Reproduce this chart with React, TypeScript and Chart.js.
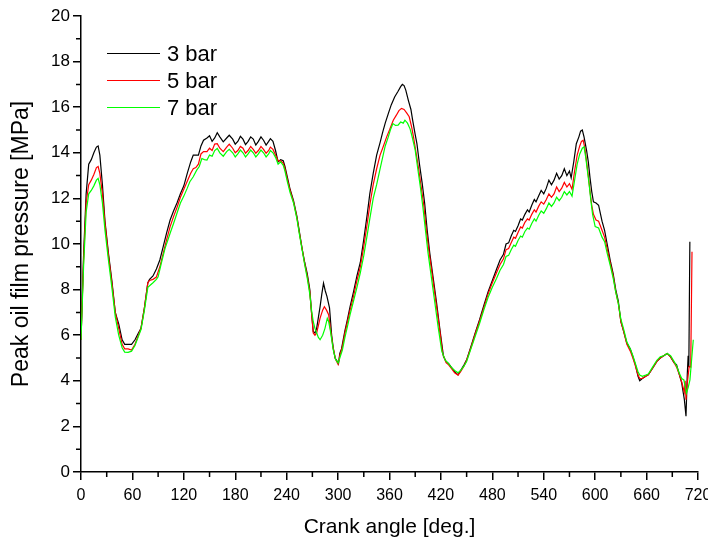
import React, { useEffect, useRef } from "react";
import { Chart, registerables } from "chart.js";

Chart.register(...registerables);

const seriesLabels = ["3 bar", "5 bar", "7 bar"];
const seriesColors = ["#000000", "#ff0000", "#00ff00"];

const xMajorTicks = [0, 60, 120, 180, 240, 300, 360, 420, 480, 540, 600, 660, 720];
const xMinorTicks = [30, 90, 150, 210, 270, 330, 390, 450, 510, 570, 630, 690];
const yMajorTicks = [0, 2, 4, 6, 8, 10, 12, 14, 16, 18, 20];
const yMinorTicks = [1, 3, 5, 7, 9, 11, 13, 15, 17, 19];

const angles3 = [0, 3, 6, 9, 12, 15, 18, 20, 22, 25, 28, 32, 36, 40, 44, 48, 51, 55, 59, 63, 67, 70, 74, 78, 80, 84, 88, 92, 96, 100, 104, 108, 112, 116, 120, 124, 128, 131, 134, 137, 140, 143, 147, 150, 153, 156, 159, 162, 166, 170, 173, 177, 180, 183, 186, 189, 192, 195, 198, 201, 204, 207, 210, 213, 216, 219, 221, 224, 227, 230, 233, 236, 238, 241, 244, 248, 252, 255, 258, 261, 264, 267, 269, 271, 273, 275, 279, 281, 283, 285, 287, 290, 292.5, 294.5, 296.5, 299, 300.5, 302, 304, 308, 311, 314, 318, 322, 326, 330, 334, 337, 341, 345, 349, 352, 355, 358.6, 362, 366, 370, 373, 375, 377, 379, 382, 385, 387, 390, 392, 395, 398, 401, 404, 407, 411, 415, 419, 423, 426, 429, 432, 436, 440, 443, 447, 450, 455, 460, 465, 470, 475, 480, 485, 489, 493, 496, 499, 502, 505, 507, 510, 513, 515, 518, 521, 523, 526, 529, 531, 534, 537, 540, 543, 546, 549, 552, 555, 558, 561, 564, 567, 570, 572, 575, 578, 581, 583, 585, 587, 590, 592, 594, 596, 598, 601, 604, 608, 611, 614, 618, 621, 624, 627, 630, 633, 637, 641, 644, 647, 650, 652, 655, 659, 662, 667, 672, 676, 680, 684, 688, 692, 695, 698, 701, 704, 706, 707.5, 708.5, 709.3, 710.5];
const pressure3 = [5.8, 9.5, 12.2, 13.5, 13.7, 14.0, 14.25, 14.3, 13.9, 12.6, 11.0, 9.6, 8.4, 7.0, 6.5, 5.8, 5.6, 5.6, 5.6, 5.8, 6.1, 6.3, 7.2, 8.3, 8.45, 8.6, 8.9, 9.3, 9.9, 10.5, 11.05, 11.45, 11.8, 12.2, 12.55, 13.1, 13.6, 13.9, 13.9, 13.9, 14.3, 14.55, 14.65, 14.75, 14.5, 14.65, 14.88, 14.7, 14.48, 14.65, 14.77, 14.6, 14.38, 14.5, 14.72, 14.6, 14.36, 14.5, 14.7, 14.6, 14.34, 14.5, 14.7, 14.55, 14.34, 14.5, 14.62, 14.5, 14.1, 13.6, 13.7, 13.65, 13.4, 12.9, 12.4, 11.9, 11.2, 10.5, 9.8, 9.2, 8.7, 8.0, 7.0, 6.16, 6.1, 6.3, 7.25, 7.8, 8.28, 7.95, 7.7, 7.2, 6.0, 5.4, 5.0, 4.85, 4.75, 5.2, 5.4, 6.2, 6.7, 7.25, 7.9, 8.6, 9.2, 10.2, 11.3, 12.2, 13.1, 13.9, 14.45, 14.9, 15.3, 15.72, 16.1, 16.45, 16.7, 16.9, 17.0, 16.95, 16.75, 16.3, 15.9, 15.43, 14.8, 14.4, 13.5, 12.7, 11.8, 10.6, 9.6, 8.5, 7.4, 6.2, 5.06, 4.85, 4.75, 4.6, 4.4, 4.26, 4.45, 4.7, 4.92, 5.5, 6.1, 6.67, 7.3, 7.9, 8.4, 8.9, 9.3, 9.55, 10.0, 10.05, 10.35, 10.6, 10.55, 10.8, 11.1, 11.05, 11.3, 11.5, 11.4, 11.7, 11.95, 11.85, 12.1, 12.35, 12.2, 12.45, 12.8, 12.6, 12.8, 13.1, 12.85, 13.0, 13.3, 13.0, 13.2, 12.9, 13.6, 14.4, 14.7, 14.95, 15.0, 14.7, 14.1, 13.6, 12.9, 12.3, 11.85, 11.8, 11.7, 11.0, 10.6, 10.0, 9.2, 8.7, 8.0, 7.5, 6.6, 6.2, 5.65, 5.4, 5.06, 4.7, 4.2, 4.0, 4.1, 4.2, 4.26, 4.55, 4.85, 5.0, 5.1, 5.2, 5.05, 4.8, 4.7, 4.3, 3.9, 3.2, 2.45, 4.3, 5.1, 4.6, 10.1];

const angles5 = [0, 3, 6, 9, 12, 15, 18, 20, 22, 25, 28, 32, 36, 40, 44, 48, 51, 55, 59, 63, 67, 70, 74, 78, 80, 84, 88, 92, 96, 100, 104, 108, 112, 116, 120, 124, 128, 131, 134, 137, 140, 143, 147, 150, 153, 156, 159, 162, 166, 170, 173, 177, 180, 183, 186, 189, 192, 195, 198, 201, 204, 207, 210, 213, 216, 219, 221, 224, 227, 230, 233, 236, 238, 241, 244, 248, 252, 255, 258, 261, 264, 267, 269, 271, 273, 275, 279, 282, 284, 286.5, 289, 291, 294, 297, 300, 302, 305, 308, 311, 314, 318, 322, 326, 330, 334, 337, 341, 345, 349, 352, 356.7, 360, 364.4, 368, 371, 374, 377, 380, 383, 386, 388, 391, 394, 397, 400, 403, 406, 410, 414, 418, 422, 426, 429, 432, 436, 440, 443, 447, 450, 455, 460, 465, 470, 475, 480, 485, 489, 493, 496, 499, 502, 505, 507, 510, 513, 515, 518, 521, 523, 526, 529, 531, 534, 537, 540, 543, 546, 549, 552, 555, 558, 561, 564, 567, 570, 573, 576, 579, 582, 584, 586, 588, 590, 592, 594, 596, 598, 601, 604, 608, 611, 614, 618, 621, 624, 627, 630, 633, 637, 641, 644, 647, 650, 652, 655, 659, 662, 667, 672, 676, 680, 684, 688, 692, 695, 698, 701, 704, 705, 706, 707.5, 709.7, 711.5, 713];
const pressure5 = [5.8, 9.3, 11.8, 12.6, 12.8, 13.05, 13.35, 13.4, 13.1, 12.2, 10.9, 9.5, 8.3, 7.0, 6.3, 5.6, 5.4, 5.4, 5.35, 5.6, 6.0, 6.3, 7.2, 8.3, 8.4, 8.45, 8.55, 9.0, 9.6, 10.2, 10.76, 11.2, 11.6, 12.05, 12.4, 12.75, 13.1, 13.3, 13.35, 13.5, 13.95, 14.05, 14.05, 14.2, 14.1, 14.38, 14.4, 14.2, 14.05, 14.25, 14.38, 14.2, 14.0, 14.1, 14.28, 14.2, 13.98, 14.1, 14.28, 14.15, 13.98, 14.1, 14.28, 14.15, 13.98, 14.1, 14.25, 14.15, 13.9, 13.65, 13.65, 13.55, 13.3, 12.8, 12.35, 11.85, 11.15, 10.45, 9.8, 9.15, 8.6, 7.9, 7.0, 6.1, 6.0, 6.1, 6.75, 7.1, 7.25, 7.1, 6.9, 6.3, 5.5, 4.95, 4.72, 5.1, 5.5, 6.1, 6.6, 7.1, 7.7, 8.4, 9.0, 9.9, 10.9, 11.7, 12.6, 13.3, 13.9, 14.2, 14.7, 15.0, 15.43, 15.65, 15.85, 15.95, 15.9, 15.75, 15.58, 15.1, 14.7, 14.0, 13.3, 12.5, 11.7, 10.6, 9.7, 8.6, 7.5, 6.4, 5.2, 4.8, 4.7, 4.55, 4.35, 4.25, 4.4, 4.65, 4.9, 5.45, 6.05, 6.6, 7.2, 7.8, 8.3, 8.75, 9.1, 9.35, 9.75, 9.8, 10.05, 10.3, 10.25, 10.5, 10.75, 10.7, 10.95, 11.1, 11.05, 11.3, 11.5, 11.4, 11.65, 11.85, 11.75, 11.95, 12.2, 12.05, 12.2, 12.5, 12.3, 12.45, 12.7, 12.5, 12.65, 12.4, 13.2, 13.9, 14.3, 14.5, 14.55, 14.2, 13.6, 13.0, 12.3, 11.7, 11.3, 11.05, 11.0, 10.6, 10.3, 9.8, 9.1, 8.6, 7.9, 7.4, 6.6, 6.2, 5.6, 5.3, 5.0, 4.65, 4.25, 4.1, 4.1, 4.2, 4.26, 4.55, 4.85, 5.0, 5.1, 5.2, 5.05, 4.8, 4.6, 4.3, 3.95, 3.5, 4.0, 3.17, 3.9, 4.63, 4.6, 9.66];

const angles7 = [0, 3, 6, 9, 12, 15, 18, 20, 22, 25, 28, 32, 36, 40, 44, 48, 51, 55, 59, 63, 67, 70, 74, 78, 80, 84, 88, 90, 94, 98, 104, 108, 112, 116, 120, 124, 127, 131, 135, 138, 141, 144, 147, 150, 153, 156, 159, 162, 166, 170, 173, 177, 180, 183, 186, 189, 192, 195, 198, 201, 204, 207, 210, 213, 216, 219, 221, 224, 227, 230, 233, 236, 238, 241, 244, 248, 252, 255, 258, 261, 264, 267, 269, 271, 273, 275, 277, 279, 282, 284.7, 287.4, 289, 291, 294.4, 297, 300, 302, 305, 308, 311, 314, 318, 322, 326, 330, 334, 337, 341, 345, 349, 352, 355, 358.6, 361, 364, 367, 370, 373, 376, 378, 381, 384, 386, 388, 390, 393, 396, 399, 402, 405, 409, 413, 417, 421, 425, 429, 432, 436, 440, 443, 447, 450, 455, 460, 465, 470, 475, 480, 485, 489, 493, 496, 499, 502, 505, 507, 510, 513, 515, 518, 521, 523, 526, 529, 531, 534, 537, 540, 543, 546, 549, 552, 555, 558, 561, 564, 567, 570, 573, 576, 579, 582, 585, 587, 589, 591, 593, 595, 597, 600, 604, 608, 611, 614, 618, 621, 624, 627, 630, 633, 637, 641, 644, 647, 650, 652, 655, 659, 662, 667, 672, 676, 680, 684, 688, 692, 695, 698, 701, 703.5, 706.5, 708.5, 710.6, 712.5, 714.5];
const pressure7 = [5.8, 9.0, 11.4, 12.2, 12.35, 12.55, 12.8, 12.88, 12.6, 11.8, 10.6, 9.3, 8.1, 6.8, 6.0, 5.45, 5.26, 5.25, 5.3, 5.55, 5.95, 6.25, 7.1, 8.1, 8.17, 8.3, 8.45, 8.56, 9.2, 9.8, 10.47, 10.9, 11.35, 11.8, 12.1, 12.45, 12.73, 12.95, 13.24, 13.4, 13.75, 13.7, 13.68, 13.9, 13.85, 14.1, 14.19, 14.0, 13.85, 14.05, 14.15, 14.0, 13.82, 13.95, 14.12, 14.0, 13.82, 13.95, 14.12, 14.0, 13.82, 13.95, 14.12, 14.0, 13.82, 13.95, 14.1, 14.0, 13.8, 13.5, 13.6, 13.45, 13.2, 12.7, 12.25, 11.8, 11.1, 10.4, 9.75, 9.1, 8.5, 7.8, 7.1, 6.6, 6.3, 6.1, 5.9, 5.8, 6.0, 6.3, 6.74, 6.6, 6.2, 5.36, 4.95, 4.78, 5.0, 5.35, 5.9, 6.4, 6.9, 7.5, 8.1, 8.75, 9.5, 10.4, 11.1, 12.0, 12.6, 13.3, 13.8, 14.3, 14.7, 15.0, 15.28, 15.2, 15.21, 15.35, 15.3, 15.43, 15.3, 15.05, 14.77, 14.45, 14.12, 13.3, 12.5, 11.6, 10.6, 9.6, 8.5, 7.4, 6.3, 5.3, 4.9, 4.75, 4.6, 4.45, 4.35, 4.45, 4.65, 4.85, 5.4, 5.95, 6.5, 7.1, 7.65, 8.1, 8.5, 8.85, 9.1, 9.45, 9.5, 9.75, 9.95, 9.9, 10.15, 10.35, 10.3, 10.55, 10.7, 10.65, 10.9, 11.1, 11.0, 11.25, 11.45, 11.35, 11.55, 11.8, 11.65, 11.8, 12.05, 11.9, 12.05, 12.3, 12.15, 12.3, 12.1, 12.8, 13.5, 13.95, 14.2, 14.26, 13.8, 13.2, 12.6, 11.9, 11.3, 10.76, 10.7, 10.3, 10.1, 9.6, 9.0, 8.5, 7.9, 7.4, 6.7, 6.3, 5.7, 5.4, 5.1, 4.75, 4.4, 4.25, 4.2, 4.25, 4.3, 4.6, 4.9, 5.05, 5.1, 5.2, 5.1, 4.85, 4.65, 4.35, 4.1, 4.04, 3.46, 3.7, 4.04, 4.9, 5.8];

const FONT = "Arial, 'Liberation Sans', Helvetica, sans-serif";

function toPoints(xs: number[], ys: number[]) {
  return xs.map((x, i) => ({ x, y: ys[i] }));
}

const extrasPlugin = {
  id: "extras",
  afterDraw(chart: any) {
    const ctx = chart.ctx;
    const xs = chart.scales.x;
    const ys = chart.scales.y;
    const area = chart.chartArea;
    ctx.save();
    ctx.strokeStyle = "#000";
    ctx.lineWidth = 1.5;
    ctx.beginPath();
    for (const v of xMinorTicks) {
      const px = xs.getPixelForValue(v);
      ctx.moveTo(px, area.bottom);
      ctx.lineTo(px, area.bottom + 5);
    }
    for (const v of yMinorTicks) {
      const py = ys.getPixelForValue(v);
      ctx.moveTo(area.left, py);
      ctx.lineTo(area.left - 5, py);
    }
    ctx.stroke();

    ctx.font = `22px ${FONT}`;
    ctx.textBaseline = "middle";
    ctx.textAlign = "left";
    chart.data.datasets.forEach((ds: any, i: number) => {
      const ly = Math.round(area.top + 37 + i * 27) + 0.5;
      ctx.strokeStyle = ds.borderColor;
      ctx.lineWidth = 1.2;
      ctx.beginPath();
      ctx.moveTo(area.left + 26, ly);
      ctx.lineTo(area.left + 79, ly);
      ctx.stroke();
      ctx.fillStyle = "#000";
      ctx.fillText(ds.label, area.left + 86, ly + 1);
    });
    ctx.restore();
  },
};

export default function App() {
  const ref = useRef<HTMLCanvasElement | null>(null);

  useEffect(() => {
    if (!ref.current) return;
    const series = [
      toPoints(angles3, pressure3),
      toPoints(angles5, pressure5),
      toPoints(angles7, pressure7),
    ];
    const chart = new Chart(ref.current, {
      type: "line",
      data: {
        datasets: series.map((pts, i) => ({
          label: seriesLabels[i],
          data: pts,
          borderColor: seriesColors[i],
          backgroundColor: seriesColors[i],
          borderWidth: 1.2,
          pointRadius: 0,
          tension: 0,
          fill: false,
          order: 2 - i,
        })),
      },
      options: {
        responsive: false,
        animation: false,
        events: [],
        layout: { padding: { top: 16, right: 10, left: 0, bottom: 0 } },
        plugins: {
          legend: { display: false },
          tooltip: { enabled: false },
        },
        scales: {
          x: {
            type: "linear",
            min: 0,
            max: 720,
            afterBuildTicks: (scale: any) => {
              scale.ticks = xMajorTicks.map((v) => ({ value: v }));
            },
            afterFit: (scale: any) => {
              scale.height = 70;
              scale.paddingLeft = 0;
              scale.paddingRight = 0;
            },
            grid: {
              display: true,
              drawOnChartArea: false,
              drawTicks: true,
              tickLength: 8,
              color: "#000",
              lineWidth: 1.5,
            },
            border: { display: true, color: "#000", width: 1.5 },
            ticks: {
              color: "#000",
              font: { family: FONT, size: 16 },
              padding: 6,
              maxRotation: 0,
              autoSkip: false,
            },
            title: {
              display: true,
              text: "Crank angle [deg.]",
              color: "#000",
              font: { family: FONT, size: 21 },
              padding: { top: 0, bottom: 2 },
            },
          },
          y: {
            type: "linear",
            min: 0,
            max: 20,
            afterBuildTicks: (scale: any) => {
              scale.ticks = yMajorTicks.map((v) => ({ value: v }));
            },
            afterFit: (scale: any) => {
              scale.width = 81;
              scale.paddingTop = 0;
              scale.paddingBottom = 0;
            },
            grid: {
              display: true,
              drawOnChartArea: false,
              drawTicks: true,
              tickLength: 8,
              color: "#000",
              lineWidth: 1.5,
            },
            border: { display: true, color: "#000", width: 1.5 },
            ticks: {
              color: "#000",
              font: { family: FONT, size: 17 },
              padding: 3,
              autoSkip: false,
            },
            title: {
              display: true,
              text: "Peak oil film pressure [MPa]",
              color: "#000",
              font: { family: FONT, size: 23 },
              padding: { top: 8, bottom: 0 },
            },
          },
        },
      },
      plugins: [extrasPlugin],
    });
    return () => chart.destroy();
  }, []);

  return (
    <div style={{ position: "fixed", left: 0, top: 0, width: 708, height: 542, background: "#fff" }}>
      <canvas ref={ref} width={708} height={542} style={{ display: "block" }} />
    </div>
  );
}
